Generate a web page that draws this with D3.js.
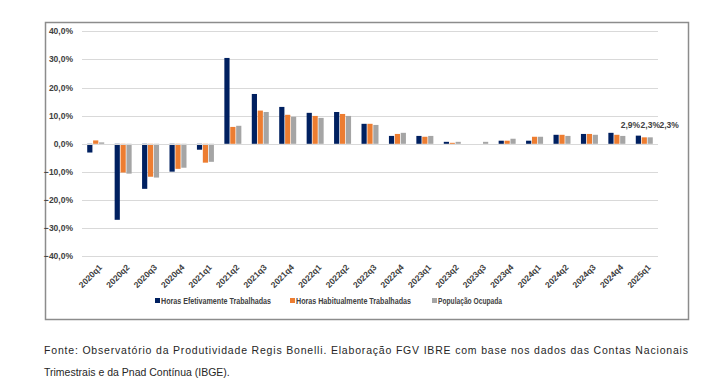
<!DOCTYPE html>
<html>
<head>
<meta charset="utf-8">
<script src="https://cdn.jsdelivr.net/npm/d3@7"></script>
<style>
  body { margin: 0; background: #fff; }
</style>
</head>
<body>
<div id="chart"></div>
<script>
const quarters = ["2020q1", "2020q2", "2020q3", "2020q4", "2021q1", "2021q2", "2021q3", "2021q4",
    "2022q1", "2022q2", "2022q3", "2022q4", "2023q1", "2023q2", "2023q3", "2023q4",
    "2024q1", "2024q2", "2024q3", "2024q4", "2025q1"];

const horasEfetivas = [-3.1, -27.0, -16.0, -9.9, -2.1, 30.5, 17.7, 13.1, 11.0, 11.3, 7.1, 2.8,
    2.8, 0.7, 0.0, 1.1, 1.1, 3.2, 3.5, 3.9, 2.9];
const horasHabituais = [1.2, -10.2, -11.7, -8.9, -6.7, 6.0, 11.8, 10.3, 9.9, 10.6, 7.1, 3.5,
    2.5, 0.35, 0.0, 1.1, 2.5, 3.2, 3.5, 3.2, 2.3];
const popOcupada = [0.5, -10.6, -12.0, -8.5, -6.4, 6.4, 11.3, 9.6, 9.2, 9.9, 6.7, 3.9,
    2.8, 0.7, 0.7, 1.8, 2.5, 2.8, 3.2, 2.8, 2.3];

const seriesNames = ["Horas Efetivamente Trabalhadas", "Horas Habitualmente Trabalhadas", "População Ocupada"];
const yTicks = [-40, -30, -20, -10, 0, 10, 20, 30, 40];

const width = 727, height = 384;
const svg = d3.select("#chart").append("svg")
    .attr("width", width)
    .attr("height", height)
    .style("font-family", "'Liberation Sans', Arial, sans-serif");

svg.append("rect").attr("width", width).attr("height", height).attr("fill", "#fff");

// chart frame
svg.append("rect")
    .attr("x", 45.5).attr("y", 22.5)
    .attr("width", 643).attr("height", 297)
    .attr("fill", "none")
    .attr("stroke", "#8c8c8c")
    .attr("stroke-width", 1.5);

const x = d3.scaleBand().domain(quarters).range([82, 658]);
const xs = d3.scaleBand().domain(d3.range(3))
    .range([x.bandwidth() / 2 - 8.5, x.bandwidth() / 2 + 8.5])
    .paddingInner(0.12);
const y = d3.scaleLinear().domain([-40, 40]).range([256.4, 31.2]);
const color = d3.scaleOrdinal().domain(d3.range(3)).range(["#002060", "#ED7D31", "#A5A5A5"]);

// gridlines
svg.append("g").selectAll("line")
    .data(yTicks)
    .join("line")
    .attr("x1", 82).attr("x2", 658)
    .attr("y1", d => Math.round(y(d)) + 0.5)
    .attr("y2", d => Math.round(y(d)) + 0.5)
    .attr("stroke", "#d9d9d9")
    .attr("stroke-width", 1);

// y labels
svg.append("g").selectAll("text")
    .data(yTicks)
    .join("text")
    .attr("x", 73)
    .attr("y", d => y(d) + 3)
    .attr("text-anchor", "end")
    .style("font-size", "8.5px")
    .style("font-weight", "bold")
    .attr("fill", "#404040")
    .text(d => d3.format(".1f")(d).replace(".", ",") + "%");

// bars
const allSeries = [horasEfetivas, horasHabituais, popOcupada];
const rows = [];
quarters.forEach((q, i) => {
    allSeries.forEach((s, k) => rows.push({ q: q, k: k, v: s[i] }));
});

svg.append("g").selectAll("rect")
    .data(rows)
    .join("rect")
    .attr("x", d => x(d.q) + xs(d.k))
    .attr("width", xs.bandwidth())
    .attr("y", d => y(Math.max(0, d.v)))
    .attr("height", d => Math.abs(y(d.v) - y(0)))
    .attr("fill", d => color(d.k));

// zero axis line
svg.append("line")
    .attr("x1", 82).attr("x2", 658)
    .attr("y1", Math.round(y(0)) + 0.5).attr("y2", Math.round(y(0)) + 0.5)
    .attr("stroke", "#d9d9d9");

// data labels on last quarter
const last = quarters.length - 1;
const labelShift = [-8, 6, 19];
svg.append("g").selectAll("text")
    .data(allSeries)
    .join("text")
    .attr("x", (s, k) => x(quarters[last]) + xs(k) + xs.bandwidth() / 2 + labelShift[k])
    .attr("y", y(3.0) - 7)
    .attr("text-anchor", "middle")
    .style("font-size", "8.5px")
    .style("font-weight", "bold")
    .attr("fill", "#404040")
    .text(s => s[last].toFixed(1).replace(".", ",") + "%");

// x labels
svg.append("g").selectAll("text")
    .data(quarters)
    .join("text")
    .attr("transform", d => `translate(${x(d) + x.bandwidth() / 2 + 7},${268}) rotate(-45)`)
    .attr("text-anchor", "end")
    .style("font-size", "8.5px")
    .style("font-weight", "bold")
    .attr("fill", "#404040")
    .text(d => d);

// legend
const legendX = [155, 290, 432];
const legendW = [110, 115, 64];
const legend = svg.append("g").selectAll("g")
    .data(seriesNames)
    .join("g")
    .attr("transform", (d, i) => `translate(${legendX[i]},298)`);
legend.append("rect")
    .attr("width", 5).attr("height", 5)
    .attr("fill", (d, i) => color(i));
legend.append("text")
    .attr("x", 6).attr("y", 6)
    .attr("textLength", (d, i) => legendW[i])
    .attr("lengthAdjust", "spacingAndGlyphs")
    .style("font-size", "8.5px")
    .style("font-weight", "bold")
    .attr("fill", "#404040")
    .text(d => d);

// source note
const note = svg.append("g")
    .style("font-size", "10.5px")
    .attr("fill", "#262626");
note.append("text")
    .attr("x", 44).attr("y", 354)
    .attr("textLength", 644)
    .attr("lengthAdjust", "spacing")
    .text("Fonte: Observatório da Produtividade Regis Bonelli. Elaboração FGV IBRE com base nos dados das Contas Nacionais");
note.append("text")
    .attr("x", 44).attr("y", 376)
    .text("Trimestrais e da Pnad Contínua (IBGE).");
</script>
</body>
</html>
